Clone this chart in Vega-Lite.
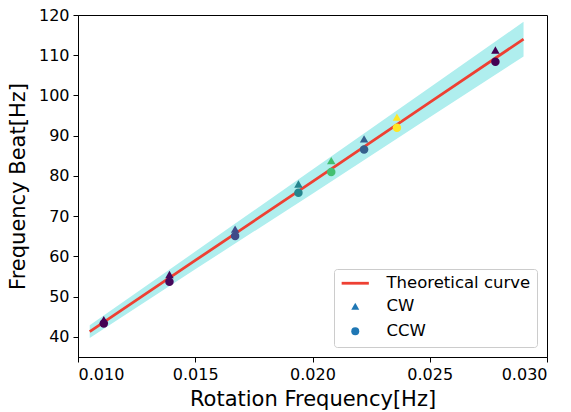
{
  "$schema": "https://vega.github.io/schema/vega-lite/v6.json",
  "width": 469,
  "height": 342,
  "autosize": {"type": "none"},
  "padding": {"left": 78, "top": 15, "right": 24, "bottom": 55},
  "background": "white",
  "config": {
    "font": "DejaVu Sans",
    "view": {"stroke": "black", "strokeWidth": 1},
    "axis": {
      "grid": false,
      "domainColor": "black",
      "tickColor": "black",
      "tickSize": 5,
      "labelColor": "black",
      "titleColor": "black",
      "labelFontSize": 16,
      "titleFontSize": 21,
      "titleFontWeight": "normal",
      "labelPadding": 4,
      "labelFont": "DejaVu Sans",
      "titleFont": "DejaVu Sans"
    }
  },
  "datasets": {
    "theory": [
      {"x": 0.0105, "y": 41.3, "lo": 39.7, "hi": 42.9},
      {"x": 0.015, "y": 59.0, "lo": 56.8, "hi": 61.2},
      {"x": 0.02, "y": 78.6, "lo": 75.6, "hi": 81.6},
      {"x": 0.025, "y": 98.3, "lo": 94.6, "hi": 102.0},
      {"x": 0.029, "y": 114.0, "lo": 109.7, "hi": 118.3}
    ],
    "points": [
      {"rot": 0.0111, "f": 44.3, "series": "CW", "c": 0.0},
      {"rot": 0.0111, "f": 43.3, "series": "CCW", "c": 0.0},
      {"rot": 0.0139, "f": 55.5, "series": "CW", "c": 0.02},
      {"rot": 0.0139, "f": 53.7, "series": "CCW", "c": 0.02},
      {"rot": 0.0167, "f": 66.8, "series": "CW", "c": 0.22},
      {"rot": 0.0167, "f": 65.1, "series": "CCW", "c": 0.22},
      {"rot": 0.0194, "f": 78.0, "series": "CW", "c": 0.45},
      {"rot": 0.0194, "f": 75.8, "series": "CCW", "c": 0.45},
      {"rot": 0.0208, "f": 83.8, "series": "CW", "c": 0.7},
      {"rot": 0.0208, "f": 81.0, "series": "CCW", "c": 0.7},
      {"rot": 0.0222, "f": 89.2, "series": "CW", "c": 0.3},
      {"rot": 0.0222, "f": 86.6, "series": "CCW", "c": 0.3},
      {"rot": 0.0236, "f": 94.6, "series": "CW", "c": 1.0},
      {"rot": 0.0236, "f": 92.0, "series": "CCW", "c": 1.0},
      {"rot": 0.0278, "f": 111.3, "series": "CW", "c": 0.0},
      {"rot": 0.0278, "f": 108.4, "series": "CCW", "c": 0.0}
    ]
  },
  "layer": [
    {
      "data": {"name": "theory"},
      "mark": {"type": "area", "color": "#afeeee", "opacity": 1},
      "encoding": {
        "x": {"field": "x", "type": "quantitative", "scale": {"domain": [0.01, 0.03], "nice": false, "zero": false},
              "axis": {"values": [0.01, 0.015, 0.02, 0.025, 0.03], "format": ".3f", "title": "Rotation Frequency[Hz]", "titlePadding": 6}},
        "y": {"field": "lo", "type": "quantitative", "scale": {"domain": [35, 120], "nice": false, "zero": false},
              "axis": {"values": [40, 50, 60, 70, 80, 90, 100, 110, 120], "title": "Frequency Beat[Hz]", "titlePadding": 10}},
        "y2": {"field": "hi"}
      }
    },
    {
      "data": {"name": "theory"},
      "mark": {"type": "line", "color": "#ee4033", "strokeWidth": 2.8},
      "encoding": {
        "x": {"field": "x", "type": "quantitative"},
        "y": {"field": "y", "type": "quantitative"}
      }
    },
    {
      "data": {"name": "points"},
      "mark": {"type": "point", "filled": true, "opacity": 1, "size": 72, "color": "#1f77b4"},
      "encoding": {
        "x": {"field": "rot", "type": "quantitative"},
        "y": {"field": "f", "type": "quantitative"},
        "fill": {"field": "c", "type": "quantitative", "scale": {"scheme": "viridis", "domain": [0, 1]}, "legend": null},
        "shape": {
          "field": "series", "type": "nominal",
          "scale": {"domain": ["Theoretical curve", "CW", "CCW"], "range": ["M-3.4,0H3.4", "triangle-up", "circle"]},
          "legend": {
            "title": null,
            "orient": "bottom-right",
            "offset": 10,
            "padding": 6,
            "fillColor": "white",
            "strokeColor": "#cccccc",
            "cornerRadius": 3,
            "labelFontSize": 16.5,
            "labelFont": "DejaVu Sans",
            "labelColor": "black",
            "symbolSize": 64,
            "symbolOffset": 7,
            "labelOffset": 23,
            "rowPadding": 5,
            "symbolFillColor": {"expr": "datum.value === 'Theoretical curve' ? 'transparent' : '#1f77b4'"},
            "symbolStrokeColor": {"expr": "datum.value === 'Theoretical curve' ? '#ee4033' : 'transparent'"},
            "symbolStrokeWidth": 2.8,
            "symbolOpacity": 1
          }
        }
      }
    }
  ]
}
